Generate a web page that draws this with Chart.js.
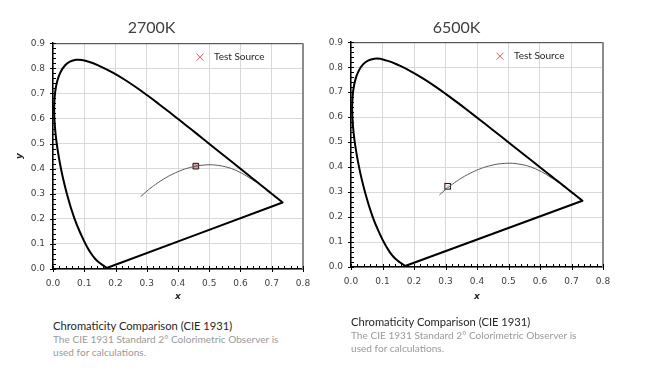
<!DOCTYPE html>
<html>
<head>
<meta charset="utf-8">
<script src="https://cdn.jsdelivr.net/npm/chart.js@4"></script>
<style>
  body { margin: 0; background: #fff; width: 646px; height: 370px; position: relative; overflow: hidden; }
  .box { position: absolute; top: 0; width: 320px; height: 310px; }
  .cap { position: absolute; font-family: Lato, sans-serif; line-height: 13.5px; }
  .cap .head { color: #262626; font-size: 11.2px; }
  .cap .note { color: #9a9a9a; font-size: 10.1px; }
</style>
</head>
<body>
<div class="box" style="left:0"><canvas id="chartWarm" width="320" height="310"></canvas></div>
<div class="box" style="left:310px"><canvas id="chartCool" width="320" height="310"></canvas></div>
<div class="cap" style="left:53px; top:319px">
  <div class="head">Chromaticity Comparison (CIE 1931)</div>
  <div class="note">The CIE 1931 Standard 2° Colorimetric Observer is<br>used for calculations.</div>
</div>
<div class="cap" style="left:351px; top:315px">
  <div class="head">Chromaticity Comparison (CIE 1931)</div>
  <div class="note">The CIE 1931 Standard 2° Colorimetric Observer is<br>used for calculations.</div>
</div>
<script>
// spectral locus, 380..700 nm every 5 nm
const spectralX = [0.1741, 0.1740, 0.1738, 0.1736, 0.1733, 0.1730, 0.1726, 0.1721, 0.1714, 0.1703,
  0.1689, 0.1669, 0.1644, 0.1611, 0.1566, 0.1510, 0.1440, 0.1355, 0.1241, 0.1096,
  0.0913, 0.0687, 0.0454, 0.0235, 0.0082, 0.0039, 0.0139, 0.0389, 0.0743, 0.1142,
  0.1547, 0.1929, 0.2296, 0.2658, 0.3016, 0.3373, 0.3731, 0.4087, 0.4441, 0.4788,
  0.5125, 0.5448, 0.5752, 0.6029, 0.6270, 0.6482, 0.6658, 0.6801, 0.6915, 0.7006,
  0.7079, 0.7140, 0.7190, 0.7230, 0.7260, 0.7283, 0.7300, 0.7311, 0.7320, 0.7327,
  0.7334, 0.7340, 0.7344, 0.7346, 0.7347];
const spectralY = [0.0050, 0.0050, 0.0049, 0.0049, 0.0048, 0.0048, 0.0048, 0.0048, 0.0051, 0.0058,
  0.0069, 0.0086, 0.0109, 0.0138, 0.0177, 0.0227, 0.0297, 0.0399, 0.0578, 0.0868,
  0.1327, 0.2007, 0.2950, 0.4127, 0.5384, 0.6548, 0.7502, 0.8120, 0.8338, 0.8262,
  0.8059, 0.7816, 0.7543, 0.7243, 0.6923, 0.6589, 0.6245, 0.5896, 0.5547, 0.5202,
  0.4866, 0.4544, 0.4242, 0.3965, 0.3725, 0.3514, 0.3340, 0.3197, 0.3083, 0.2993,
  0.2920, 0.2859, 0.2809, 0.2770, 0.2740, 0.2717, 0.2700, 0.2689, 0.2680, 0.2673,
  0.2666, 0.2660, 0.2656, 0.2654, 0.2653];

// planckian locus, 10000 K down to 1000 K
const planckX = [0.2807, 0.2952, 0.3064, 0.3135, 0.3221, 0.3451, 0.3608, 0.3805, 0.4053, 0.4369,
  0.4770, 0.5267, 0.5857, 0.6528];
const planckY = [0.2884, 0.3048, 0.3166, 0.3237, 0.3318, 0.3516, 0.3635, 0.3768, 0.3907, 0.4041,
  0.4137, 0.4133, 0.3931, 0.3444];

const titles = ['2700K', '6500K'];
const testX = [0.457, 0.307];
const testY = [0.410, 0.323];

const xTicks = [0, 0.1, 0.2, 0.3, 0.4, 0.5, 0.6, 0.7, 0.8];
const yTicks = [0, 0.1, 0.2, 0.3, 0.4, 0.5, 0.6, 0.7, 0.8, 0.9];

const TICK_FONT = { family: 'DejaVu Sans', size: 9 };

const toPoints = (xs, ys) => xs.map((x, i) => ({ x, y: ys[i] }));

// frame: top / right border, major cross ticks, minor inside ticks, legend
const framePlugin = {
  id: 'frame',
  afterDatasetsDraw(chart) {
    const { ctx, chartArea: a, scales } = chart;
    const xs = scales.x;
    const ys = scales.y;
    ctx.save();
    ctx.lineWidth = 1;
    ctx.strokeStyle = '#3a3a3a';
    ctx.beginPath();
    ctx.moveTo(a.left, a.top + 0.5);
    ctx.lineTo(a.right, a.top + 0.5);
    ctx.stroke();
    ctx.lineWidth = 2;
    ctx.strokeStyle = '#8c8c8c';
    ctx.beginPath();
    ctx.moveTo(a.right, a.top);
    ctx.lineTo(a.right, a.bottom);
    ctx.stroke();

    ctx.lineWidth = 1;
    ctx.strokeStyle = '#000';
    ctx.beginPath();
    for (let i = 0; i <= 40; i += 1) {
      const px = Math.round(xs.getPixelForValue(i / 50)) + 0.5;
      const major = i % 5 === 0;
      ctx.moveTo(px, a.bottom - 3);
      ctx.lineTo(px, major ? a.bottom + 3 : a.bottom);
    }
    for (let i = 0; i <= 45; i += 1) {
      const py = Math.round(ys.getPixelForValue(i / 50)) + 0.5;
      const major = i % 5 === 0;
      ctx.moveTo(major ? a.left - 3 : a.left, py);
      ctx.lineTo(a.left + 3, py);
    }
    ctx.stroke();

    // legend
    const lx = a.right - 103;
    const ly = a.top + 14;
    ctx.strokeStyle = '#e05a5a';
    ctx.lineWidth = 1;
    ctx.beginPath();
    ctx.moveTo(lx - 3.5, ly - 3.5);
    ctx.lineTo(lx + 3.5, ly + 3.5);
    ctx.moveTo(lx + 3.5, ly - 3.5);
    ctx.lineTo(lx - 3.5, ly + 3.5);
    ctx.stroke();
    ctx.fillStyle = '#262626';
    ctx.font = '10px Lato';
    ctx.textBaseline = 'middle';
    ctx.fillText('Test Source', lx + 14, ly);
    ctx.restore();
  }
};

function makeChart(id, idx) {
  const leftWidth = idx === 0 ? 53 : 41;
  const rightPad = idx === 0 ? 17 : 27;
  const bottomHeight = idx === 0 ? 41 : 43;
  return new Chart(document.getElementById(id), {
    type: 'scatter',
    data: {
      datasets: [
        {
          label: 'Spectral Locus',
          data: toPoints(spectralX.concat([spectralX[0]]), spectralY.concat([spectralY[0]])),
          showLine: true,
          borderColor: '#000',
          borderWidth: 2,
          pointRadius: 0,
          tension: 0.4
        },
        {
          label: 'Planckian Locus',
          data: toPoints(planckX, planckY),
          showLine: true,
          borderColor: '#5a5a5a',
          borderWidth: 1,
          pointRadius: 0,
          tension: 0.4
        },
        {
          label: 'Test Source Box',
          data: [{ x: testX[idx], y: testY[idx] }],
          pointStyle: 'rect',
          pointRadius: 4,
          borderColor: '#1a1a1a',
          borderWidth: 1,
          backgroundColor: idx === 0 ? 'rgba(230,140,150,0.8)' : 'rgba(255,255,255,0.6)'
        },
        {
          label: 'Test Source',
          data: [{ x: testX[idx], y: testY[idx] }],
          pointStyle: 'crossRot',
          pointRadius: idx === 0 ? 3.5 : 5,
          borderColor: '#e05a5a',
          borderWidth: 1
        }
      ]
    },
    options: {
      responsive: false,
      animation: false,
      layout: { padding: { left: 0, right: rightPad, top: 0, bottom: 0 } },
      plugins: {
        legend: { display: false },
        tooltip: { enabled: false },
        title: {
          display: true,
          text: titles[idx],
          color: '#404040',
          font: { family: 'Lato', size: 16, weight: 'normal' },
          padding: { top: 18, bottom: idx === 0 ? 6 : 5 }
        }
      },
      scales: {
        x: {
          type: 'linear',
          min: 0,
          max: 0.8,
          afterFit: (s) => { s.height = bottomHeight; },
          afterBuildTicks: (s) => { s.ticks = xTicks.map((v) => ({ value: v })); },
          ticks: {
            padding: 9,
            color: '#404040',
            font: TICK_FONT,
            callback: (v) => v.toFixed(1)
          },
          grid: { color: '#d9d9d9', drawTicks: false },
          border: { color: '#000', width: 1.5 },
          title: {
            display: true,
            text: 'x',
            color: '#262626',
            font: { family: 'DejaVu Sans', size: 9, weight: 'bold', style: 'italic' },
            padding: { top: 8, bottom: 8 }
          }
        },
        y: {
          type: 'linear',
          min: 0,
          max: 0.9,
          afterFit: (s) => { s.width = leftWidth; },
          afterBuildTicks: (s) => { s.ticks = yTicks.map((v) => ({ value: v })); },
          ticks: {
            padding: 8,
            color: '#404040',
            font: TICK_FONT,
            callback: (v) => v.toFixed(1)
          },
          grid: { color: '#d9d9d9', drawTicks: false },
          border: { color: '#000', width: 1.5 },
          title: {
            display: idx === 0,
            text: 'y',
            color: '#262626',
            font: { family: 'DejaVu Sans', size: 9, weight: 'bold', style: 'italic' },
            padding: { top: 14, bottom: 14 }
          }
        }
      }
    },
    plugins: [framePlugin]
  });
}

makeChart('chartWarm', 0);
makeChart('chartCool', 1);
</script>
</body>
</html>
